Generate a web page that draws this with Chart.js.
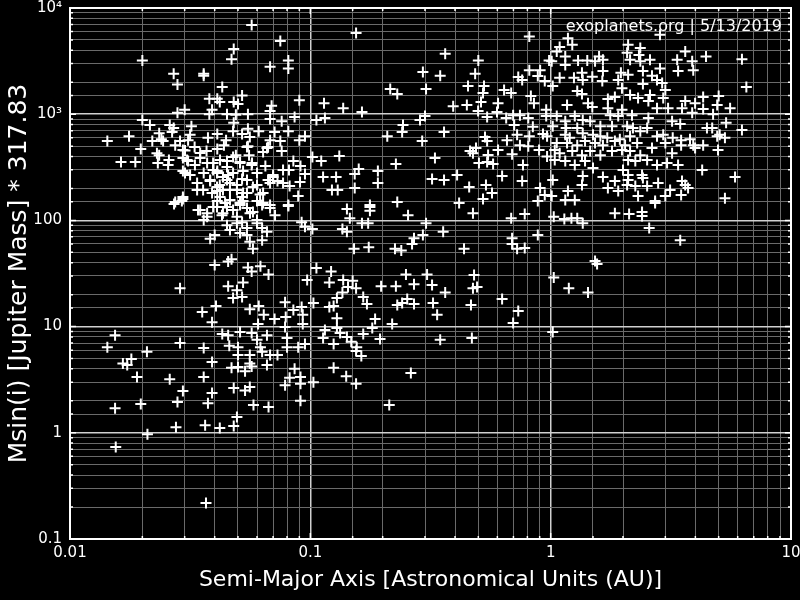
<!DOCTYPE html>
<html>
<head>
<meta charset="utf-8">
<script src="https://cdn.jsdelivr.net/npm/chart.js@4.4.0/dist/chart.umd.min.js"></script>
<style>
  html, body { margin: 0; padding: 0; background: #000; }
</style>
</head>
<body>
<canvas id="chart" width="800" height="600"></canvas>
<script>
// semi-major axis [AU]
const semiMajorAxis = [
  // short-period cluster, upper part
  0.057,0.075,0.048,0.047,0.020,0.081,0.068,0.081,0.027,0.036,
  0.036,0.028,0.043,0.052,0.038,0.041,0.042,0.048,0.050,0.090,
  0.030,0.028,0.039,0.069,0.068,0.038,0.045,0.049,0.055,0.086,
  0.068,0.076,0.020,0.0215,0.026,0.027,0.032,0.048,0.055,0.061,
  0.071,0.081,0.095,0.0143,0.0176,0.022,0.0235,0.024,0.0244,0.0266,
  0.0316,0.031,0.0375,0.041,0.0446,0.0477,0.052,0.056,0.068,0.075,
  0.090,0.0197,0.023,0.0235,0.0274,0.0287,0.0295,0.033,0.037,0.041,
  0.0437,0.049,0.055,0.0556,0.066,0.076,0.0163,0.0187,0.0232,0.0258,
  0.0256,0.0295,0.031,0.0348,0.0394,0.045,0.051,0.057,0.065,0.085,
  0.091,0.0295,0.0316,0.036,0.041,0.0455,0.0525,0.060,0.070,0.077,
  0.0815,0.095,0.0667,0.073,0.077,0.0906,0.082,0.0383,0.042,0.045,
  0.0495,0.0545,0.060,0.0338,0.041,0.0463,0.0525,0.0636,0.089,0.0295,
  0.0274,0.041,0.0463,0.0525,0.060,0.068,0.081,
  // core of the hot-Jupiter clump
  0.0301,0.0348,0.0307,0.0331,0.0301,0.0372,0.0394,0.0421,0.045,0.0477,
  0.051,0.0545,0.0572,0.0636,0.0667,0.0383,0.0409,0.0433,0.0463,0.0495,
  0.052,0.0545,0.0577,0.0618,0.0358,0.0338,0.0421,0.051,0.0394,0.0433,
  0.0495,0.0561,0.0348,0.0372,0.070,0.068,0.0295,0.0636,0.060,0.0409,
  0.0477,0.0433,0.052,0.039,0.045,
  // short-period, lower masses
  0.0271,0.0292,0.0341,0.0372,0.0409,0.0429,0.0442,0.0477,0.051,0.0545,
  0.0577,0.063,0.068,0.0713,0.081,0.036,0.045,0.0463,0.0495,0.052,
  0.0545,0.060,0.063,0.066,0.051,0.0545,0.0383,0.040,0.056,0.0577,
  0.063,0.092,0.095,0.040,0.0455,0.047,0.055,0.057,0.062,0.067,
  0.097,0.0287,0.0455,0.0495,0.0525,0.0477,0.052,0.0355,0.0405,0.056,
  0.061,0.064,0.071,0.0785,0.079,0.085,0.092,0.093,0.093,0.039,
  0.0606,0.0785,0.0154,0.0143,0.0209,0.0287,0.036,0.043,0.0455,0.051,
  0.057,0.046,0.050,0.060,0.062,0.066,0.080,0.080,0.089,0.095,
  0.050,0.056,0.063,0.068,0.073,0.018,0.0166,0.0173,0.039,0.056,
  0.066,0.019,0.026,0.036,0.047,0.050,0.0535,0.057,0.086,0.082,
  0.091,0.0785,0.091,0.048,0.0535,0.056,0.0295,0.039,0.028,0.0375,
  0.091,0.0197,0.0154,0.058,0.067,
  0.0276,0.0365,0.042,0.048,0.0495,0.021,0.0155,0.0368,
  // 0.1 - 1 AU, upper part
  0.155,0.815,0.364,0.50,0.985,0.294,0.347,0.485,0.815,0.904,
  0.733,0.761,0.884,0.945,0.215,0.23,0.303,0.453,0.528,0.523,
  0.64,0.685,0.827,0.852,0.114,0.137,0.164,0.106,0.115,0.393,
  0.448,0.513,0.604,0.499,0.598,0.544,0.653,0.698,0.745,0.807,
  0.958,0.958,0.286,0.30,0.243,0.241,0.209,0.36,0.292,0.705,
  0.843,0.533,0.544,0.658,0.725,0.815,0.929,0.966,0.745,0.807,
  0.895,0.604,0.462,0.489,0.475,0.691,0.966,0.132,0.102,0.111,
  0.33,0.227,0.549,0.503,0.544,0.576,0.767,0.159,0.153,0.191,
  0.113,0.128,0.191,0.321,0.36,0.408,0.628,0.761,0.123,0.130,
  0.153,0.458,0.538,0.57,0.523,0.904,0.945,0.884,0.177,0.23,
  0.416,
  // 0.1 - 1 AU, lower part
  0.142,0.177,0.177,0.146,0.164,0.174,0.255,0.303,0.475,0.685,
  0.78,0.102,0.136,0.142,0.294,0.357,0.27,0.265,0.152,0.175,
  0.225,0.239,0.436,0.691,0.691,0.725,0.78,0.884,0.106,0.122,
  0.12,0.137,0.15,0.1435,0.155,0.136,0.129,0.166,0.172,0.197,
  0.227,0.25,0.306,0.27,0.321,0.364,0.48,0.475,0.494,0.103,
  0.12,0.125,0.23,0.241,0.253,0.27,0.324,0.337,0.466,0.628,
  0.733,0.129,0.186,0.219,0.181,0.698,0.115,0.129,0.133,0.113,
  0.125,0.142,0.148,0.166,0.156,0.155,0.163,0.195,0.347,0.47,
  0.125,0.141,0.155,0.103,0.262,0.213,
  // beyond 1 AU, lower part
  1.03,1.14,1.22,1.29,1.36,1.85,2.12,2.40,2.40,2.72,
  2.57,3.46,1.53,1.56,1.03,1.19,1.43,1.02,
  // beyond 1 AU, giant planets
  1.18,1.23,1.09,1.06,1.15,1.01,1.15,1.30,1.42,1.53,
  1.59,1.65,2.10,2.08,2.36,2.33,2.14,2.36,2.59,2.85,
  3.63,3.36,3.88,3.39,3.92,4.43,6.25,6.52,1.09,1.02,
  1.25,1.35,1.36,1.49,1.65,1.64,1.96,2.10,1.91,2.42,
  2.85,2.64,2.42,2.77,2.91,1.29,1.35,1.98,2.14,2.31,
  2.59,3.00,2.94,1.73,1.85,1.17,1.43,1.49,1.73,1.98,
  2.55,2.77,3.08,3.63,3.52,3.99,4.31,4.31,5.00,4.93,
  5.58,3.88,4.74,1.06,1.15,1.26,1.36,1.46,1.77,1.91,
  2.18,2.55,3.20,3.46,4.47,4.70,5.37,6.25,1.02,1.16,
  1.29,1.36,1.61,1.80,2.08,2.20,2.36,2.52,1.15,1.20,
  1.50,1.61,1.72,1.94,2.14,2.77,2.94,3.22,3.49,3.80,
  4.93,5.05,5.31,1.06,1.17,1.29,1.39,1.53,1.65,1.85,
  2.04,2.29,2.64,3.00,3.49,3.92,3.99,4.31,4.97,1.04,
  1.09,1.23,1.35,1.46,1.61,1.80,1.98,2.14,2.36,3.20,
  1.04,1.15,1.26,1.39,1.50,2.10,2.25,2.52,2.77,3.05,
  3.39,4.27,2.00,2.10,1.36,1.65,1.85,2.10,2.40,2.42,
  2.08,1.02,1.35,1.73,1.91,2.25,2.52,2.80,3.52,3.63,
  3.73,5.85,1.18,1.01,1.15,1.26,2.31,2.72,3.00,3.14,
  3.49,5.31
];

// Msin(i) in Jupiter masses * 317.83, same order as above
const massMsini = [
  6900,4900,4100,3300,3200,3200,2800,2700,2400,2400,
  2300,1900,1800,1500,1400,1400,1300,1300,1250,1350,
  1100,1030,1100,1200,1070,1000,1000,990,1000,940,
  900,860,880,790,790,740,770,830,730,690,
  680,690,620,560,620,560,660,580,560,680,
  640,570,600,650,570,690,650,610,570,560,
  570,470,430,410,510,560,460,490,450,470,
  510,410,500,410,480,450,355,355,347,370,
  333,387,363,387,347,363,355,333,325,363,
  325,292,268,279,292,268,292,279,268,298,
  298,274,240,235,225,230,211,235,215,240,
  215,240,215,193,189,193,181,181,170,159,
  149,152,156,152,152,140,140,

  455,431,370,333,279,347,298,370,319,396,
  347,492,347,441,492,240,206,256,225,193,
  245,181,206,175,193,225,166,146,134,117,
  108,117,125,108,256,225,166,146,101,279,
  279,193,166,181,134,

  143,152,125,117,134,112,146,125,140,131,
  120,140,131,112,137,101,90,81,94,96,
  85,94,85,78,76,73,67,73,63,54,
  65,96,87,38,41,43,36,33,37,31,
  27.5,23,24,22,26,18.6,19,13.7,15.6,14.6,
  15.6,12.9,11.8,17,12.3,14.3,15.3,12.9,10.6,11,
  10.6,9.9,8.3,6.4,5.8,7.0,6.3,8.5,8.3,8.9,
  8.7,6.6,6.4,7.5,6.4,8.3,7.8,6.4,6.4,6.85,
  5.4,5.4,5.8,5.4,5.4,4.95,4.5,4.35,4.65,4.5,
  4.35,3.35,3.2,3.35,4.1,4.17,3.8,4.2,4.0,3.3,
  3.35,2.8,2.9,2.64,2.5,2.7,2.47,2.37,1.95,1.9,
  2.0,1.87,1.7,1.83,1.75,
  1.13,1.18,1.11,1.16,1.41,0.97,0.735,0.218,

  5800,5400,3700,3200,3200,2500,2300,2400,2600,2600,
  2240,2100,2290,2050,1730,1550,1730,1840,1840,1580,
  1690,1580,1480,1270,1270,1140,1050,880,920,1190,
  1220,1300,1270,1070,1050,940,920,980,980,920,
  1100,960,880,960,790,680,620,680,560,790,
  760,610,560,570,640,620,650,620,510,500,
  460,460,450,480,430,420,400,404,396,363,
  387,340,413,347,355,340,333,305,274,292,
  256,256,225,245,240,268,262,235,193,193,
  202,206,215,181,159,202,173,152,140,149,
  146,

  128,134,123,105,94,94,112,94,117,105,
  115,83,83,78,73,78,68,60,54,56,
  54,52,54,68,60,54,55,73,35.6,33,
  26,27.5,27,23.6,23,21,18.6,19,16.3,24,
  24,31,31,25,24.6,21,30.6,23,23.6,16.7,
  15.3,15.6,16,16.7,18.2,16.3,16.7,12.9,16,18.2,
  14,12,11.8,10.6,9.7,10.8,9.3,9.7,8.7,7.8,
  6.85,8.0,7.2,8.5,6.4,5.9,5.3,7.65,7.5,7.8,
  4.1,3.4,2.9,3.0,3.66,1.83,

  108,103,105,105,94,117,115,120,110,146,
  85,65,41.5,38.8,29,23,21,8.9,

  5200,4500,4300,3900,3500,3150,2900,3200,3200,3150,
  3500,3250,4500,3800,4200,3600,3250,3150,3250,5600,
  3900,3250,3150,2550,2600,3500,3300,1800,2200,1840,
  2200,2450,2100,2250,2550,2050,2450,2350,2100,2550,
  2700,2300,1920,2100,1970,1650,1550,1760,1520,1420,
  1520,1690,1420,1390,1450,1220,1270,1170,1140,1100,
  1330,1140,1140,1330,1140,1270,1450,1120,1480,1220,
  1140,1030,1000,960,860,960,880,860,980,960,
  980,920,860,810,740,740,830,710,770,740,
  740,660,770,770,770,740,690,740,640,600,
  640,620,600,580,620,620,640,600,570,580,
  620,640,600,535,535,510,560,535,510,560,
  510,535,480,535,510,510,480,510,460,460,
  430,450,410,450,410,450,460,450,410,430,
  370,363,333,363,311,370,363,370,333,347,
  333,298,298,268,262,256,235,240,268,251,
  215,240,215,202,189,211,211,225,235,215,
  202,256,189,170,156,156,170,152,170,193,
  173,162
];

const xTickValues = [0.01, 0.1, 1, 10];
const xTickLabels = ['0.01', '0.1', '1', '10'];
const yTickValues = [0.1, 1, 10, 100, 1000, 10000];
const yTickLabels = ['0.1', '1', '10', '100', '10³', '10⁴'];

const creditText = 'exoplanets.org | 5/13/2019';
const FONT = '"DejaVu Sans", Verdana, sans-serif';

function labelFor(values, labels, v) {
  const i = values.findIndex(t => Math.abs(t - v) / t < 1e-6);
  return i >= 0 ? labels[i] : '';
}
function isDecade(v) {
  const e = Math.log10(v);
  return Math.abs(e - Math.round(e)) < 1e-6;
}

const points = semiMajorAxis.map((a, i) => ({ x: a, y: massMsini[i] }));

// white frame plus small inward ticks on all four sides
const framePlugin = {
  id: 'frame',
  afterDatasetsDraw(chart) {
    const { ctx, chartArea: a, scales } = chart;
    ctx.save();
    ctx.strokeStyle = '#fff';
    ctx.lineWidth = 1.5;
    scales.x.ticks.forEach(t => {
      const px = scales.x.getPixelForValue(t.value);
      const len = isDecade(t.value) ? 6 : 3;
      ctx.beginPath();
      ctx.moveTo(px, a.bottom); ctx.lineTo(px, a.bottom - len);
      ctx.moveTo(px, a.top); ctx.lineTo(px, a.top + len);
      ctx.stroke();
    });
    scales.y.ticks.forEach(t => {
      const py = scales.y.getPixelForValue(t.value);
      const len = isDecade(t.value) ? 6 : 3;
      ctx.beginPath();
      ctx.moveTo(a.left, py); ctx.lineTo(a.left + len, py);
      ctx.moveTo(a.right, py); ctx.lineTo(a.right - len, py);
      ctx.stroke();
    });
    ctx.lineWidth = 2;
    ctx.strokeRect(a.left, a.top, a.right - a.left, a.bottom - a.top);
    ctx.fillStyle = '#fff';
    ctx.font = '16px ' + FONT;
    ctx.textAlign = 'right';
    ctx.textBaseline = 'middle';
    ctx.fillText(creditText, a.right - 9, a.top + 19);
    ctx.restore();
  }
};

new Chart(document.getElementById('chart'), {
  type: 'scatter',
  data: {
    datasets: [{
      data: points,
      pointStyle: 'cross',
      pointRadius: 5.5,
      borderColor: '#fff',
      backgroundColor: '#fff',
      borderWidth: 2
    }]
  },
  options: {
    responsive: false,
    animation: false,
    events: [],
    layout: { padding: 0 },
    plugins: { legend: { display: false }, tooltip: { enabled: false } },
    scales: {
      x: {
        type: 'logarithmic',
        min: 0.01,
        max: 10,
        afterFit: s => { s.height = 61; s.paddingRight = 9; s.paddingLeft = 0; },
        border: { color: '#fff', width: 2 },
        grid: {
          drawTicks: false,
          color: c => isDecade(c.tick.value) ? '#d0d0d0' : '#6a6a6a',
          lineWidth: c => isDecade(c.tick.value) ? 1.5 : 1
        },
        ticks: {
          autoSkip: false,
          maxRotation: 0,
          padding: 5,
          color: '#fff',
          font: { family: FONT, size: 15 },
          callback: v => labelFor(xTickValues, xTickLabels, v)
        },
        title: {
          display: true,
          text: 'Semi-Major Axis [Astronomical Units (AU)]',
          color: '#fff',
          font: { family: FONT, size: 22 },
          padding: { top: 0, bottom: 7 }
        }
      },
      y: {
        type: 'logarithmic',
        min: 0.1,
        max: 10000,
        afterFit: s => { s.width = 70; s.paddingTop = 8; s.paddingBottom = 0; },
        border: { color: '#fff', width: 2 },
        grid: {
          drawTicks: false,
          color: c => isDecade(c.tick.value) ? '#d0d0d0' : '#6a6a6a',
          lineWidth: c => isDecade(c.tick.value) ? 1.5 : 1
        },
        ticks: {
          autoSkip: false,
          padding: 8,
          color: '#fff',
          font: { family: FONT, size: 15 },
          callback: v => labelFor(yTickValues, yTickLabels, v)
        },
        title: {
          display: true,
          text: 'Msin(i) [Jupiter Mass] * 317.83',
          color: '#fff',
          font: { family: FONT, size: 25 },
          padding: { top: 4, bottom: 0 }
        }
      }
    }
  },
  plugins: [framePlugin]
});
</script>
</body>
</html>
